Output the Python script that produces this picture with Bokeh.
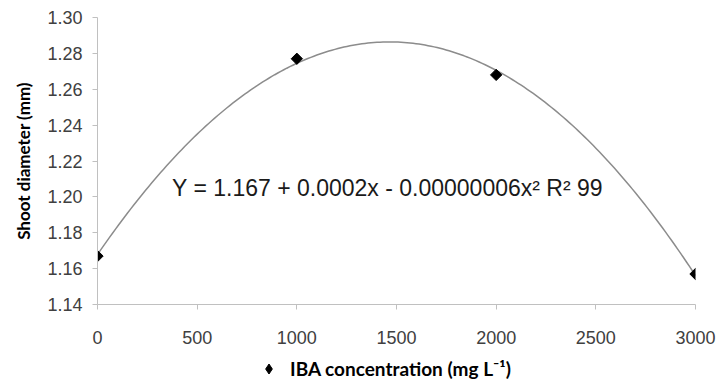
import numpy as np
from bokeh.plotting import figure
from bokeh.layouts import column
from bokeh.models import (FixedTicker, NumeralTickFormatter, Label, Legend, LegendItem, Range1d)
from bokeh.embed import file_html
from bokeh.resources import INLINE

# Data
iba_conc = [0, 1000, 2000, 3000]
shoot_diameter = [1.167, 1.277, 1.268, 1.157]
x_ticks = [0, 500, 1000, 1500, 2000, 2500, 3000]
y_ticks = [1.14, 1.16, 1.18, 1.20, 1.22, 1.24, 1.26, 1.28, 1.30]
equation = "Y = 1.167 + 0.0002x - 0.00000006x\u00b2 R\u00b2 99"
series_name = "IBA concentration (mg L\u207b\u00b9)"
y_label = "Shoot diameter (mm)"

# quadratic trend line fitted to the data
coef = np.polyfit(iba_conc, shoot_diameter, 2)
xs = np.linspace(min(iba_conc), max(iba_conc), 200)
ys = np.polyval(coef, xs)

p = figure(width=716, height=350, output_backend="svg", toolbar_location=None,
           x_range=Range1d(0, 3000), y_range=Range1d(1.14, 1.30),
           min_border_left=97, min_border_right=21, min_border_top=17, min_border_bottom=46)
p.outline_line_color = None
p.xgrid.grid_line_color = None
p.ygrid.grid_line_color = None
p.background_fill_color = "white"
p.border_fill_color = "white"

line = p.line(xs, ys, line_color="#8c8c8c", line_width=1.5)
pts = p.scatter(iba_conc, shoot_diameter, marker="square", angle=np.pi / 4, size=8,
                fill_color="black", line_color="black")

for ax in (p.xaxis, p.yaxis):
    ax.axis_line_color = "#c0c0c0"
    ax.major_tick_line_color = "#c0c0c0"
    ax.major_tick_in = 0
    ax.major_tick_out = 5
    ax.minor_tick_line_color = None
    ax.major_label_text_font = "Liberation Sans"
    ax.major_label_text_font_size = "18px"
    ax.major_label_text_color = "#404040"

p.xaxis.ticker = FixedTicker(ticks=x_ticks)
p.yaxis.ticker = FixedTicker(ticks=y_ticks)
p.yaxis.formatter = NumeralTickFormatter(format="0.00")
p.xaxis.major_label_standoff = 21
p.yaxis.major_label_standoff = 10

p.yaxis.axis_label = y_label
p.yaxis.axis_label_text_font = "Lato"
p.yaxis.axis_label_text_font_style = "bold"
p.yaxis.axis_label_text_font_size = "17px"
p.yaxis.axis_label_text_color = "black"
p.yaxis.axis_label_standoff = 10

p.add_layout(Label(x=1455, y=1.205, text=equation, text_align="center", text_baseline="middle",
                   text_font="Liberation Sans", text_font_size="23px", text_color="#1a1a1a"))

# legend strip below the chart
lg = figure(width=716, height=38, output_backend="svg", toolbar_location=None,
            x_range=Range1d(-2, -1), y_range=Range1d(-2, -1),
            min_border_left=97, min_border_right=21, min_border_top=0, min_border_bottom=0)
lg.outline_line_color = None
lg.axis.visible = False
lg.grid.grid_line_color = None
lg_pts = lg.scatter(iba_conc, shoot_diameter, marker="diamond", size=12,
                    fill_color="black", line_color="black")
legend = Legend(items=[LegendItem(label=series_name, renderers=[lg_pts])],
                location=(159, 7), border_line_color=None, background_fill_alpha=0,
                padding=0, margin=0, spacing=0,
                label_text_font="Lato", label_text_font_size="19px", label_text_font_style="bold",
                label_text_color="black", glyph_width=25, glyph_height=25, label_standoff=9)
lg.add_layout(legend, "center")

layout = column(p, lg, spacing=0)
open("out.html", "w").write(file_html(layout, INLINE))
